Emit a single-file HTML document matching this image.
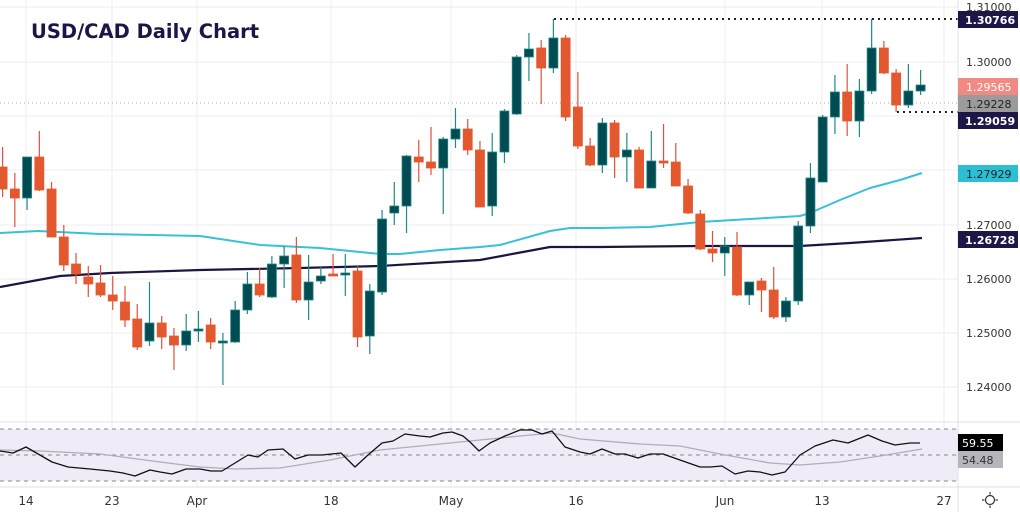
<!DOCTYPE html>
<html><head><meta charset="utf-8"><style>
html,body{margin:0;padding:0;background:#fff;width:1020px;height:512px;overflow:hidden}
svg{display:block}
text{font-family:"DejaVu Sans","Liberation Sans",sans-serif}
</style></head><body>
<svg id="c" width="1020" height="512" viewBox="0 0 1020 512" xmlns="http://www.w3.org/2000/svg">
<rect width="1020" height="512" fill="#fff"/>
<g id="grid" stroke="#eeeef2" stroke-width="1">
<line x1="0" y1="7" x2="958" y2="7"/><line x1="0" y1="62" x2="958" y2="62"/><line x1="0" y1="116" x2="958" y2="116"/><line x1="0" y1="170" x2="958" y2="170"/><line x1="0" y1="225" x2="958" y2="225"/><line x1="0" y1="279" x2="958" y2="279"/><line x1="0" y1="333" x2="958" y2="333"/><line x1="0" y1="387" x2="958" y2="387"/>
<line x1="26" y1="0" x2="26" y2="487"/><line x1="112" y1="0" x2="112" y2="487"/><line x1="197" y1="0" x2="197" y2="487"/><line x1="331" y1="0" x2="331" y2="487"/><line x1="451" y1="0" x2="451" y2="487"/><line x1="576" y1="0" x2="576" y2="487"/><line x1="725" y1="0" x2="725" y2="487"/><line x1="822" y1="0" x2="822" y2="487"/><line x1="944" y1="0" x2="944" y2="487"/>
</g>
<line x1="0" y1="103" x2="958" y2="103" stroke="#aaa" stroke-width="1" stroke-dasharray="1,3"/>
<text x="31" y="38" font-size="19.5" font-weight="bold" fill="#1c1547">USD/CAD Daily Chart</text>
<g id="ma"></g>
<g id="candles"></g>
<line x1="554" y1="19" x2="958" y2="19" stroke="#222" stroke-width="2" stroke-dasharray="2,4"/>
<line x1="897" y1="112" x2="958" y2="112" stroke="#222" stroke-width="2" stroke-dasharray="2,4"/>
<line x1="0" y1="422" x2="1020" y2="422" stroke="#e0e0e6"/>
<rect x="0" y="429" width="958" height="52" fill="#efecf8"/>
<g stroke="#888" stroke-dasharray="4,4" stroke-width="1"><line x1="0" y1="429" x2="958" y2="429"/><line x1="0" y1="455" x2="958" y2="455"/><line x1="0" y1="481" x2="958" y2="481"/></g>
<g id="rsi"></g>
<line x1="0" y1="487" x2="1020" y2="487" stroke="#e0e0e6"/>
<line x1="958" y1="0" x2="958" y2="512" stroke="#e0e0e6"/>
<g font-size="12" fill="#333" text-anchor="middle">
<text x="26" y="505">14</text><text x="112" y="505">23</text><text x="197" y="505">Apr</text><text x="331" y="505">18</text><text x="451" y="505">May</text><text x="576" y="505">16</text><text x="725" y="505">Jun</text><text x="822" y="505">13</text><text x="944" y="505">27</text>
</g>
<g transform="translate(990,500)" stroke="#333" fill="none" stroke-width="1.2"><circle r="4.5"/><line x1="0" y1="-8" x2="0" y2="-5.5"/><line x1="0" y1="8" x2="0" y2="5.5"/><line x1="-8" y1="0" x2="-5.5" y2="0"/><line x1="8" y1="0" x2="5.5" y2="0"/></g>
<g font-size="11" fill="#333">
<text x="966" y="11">1.31000</text><text x="966" y="66">1.30000</text><text x="966" y="229">1.27000</text><text x="966" y="283">1.26000</text><text x="966" y="337">1.25000</text><text x="966" y="391">1.24000</text>
</g>
<g font-size="11">
<rect x="958" y="11" width="60" height="17" fill="#1d1748"/><text x="965" y="24" fill="#fff" font-weight="bold">1.30766</text>
<rect x="958" y="78" width="60" height="17" fill="#f28a84"/><text x="966" y="91" fill="#fff">1.29565</text>
<rect x="958" y="95" width="60" height="17" fill="#9b9b9b"/><text x="966" y="108" fill="#222">1.29228</text>
<rect x="958" y="112" width="60" height="17" fill="#1d1748"/><text x="965" y="125" fill="#fff" font-weight="bold">1.29059</text>
<rect x="958" y="165" width="60" height="17" fill="#2bbfd4"/><text x="966" y="178" fill="#222">1.27929</text>
<rect x="958" y="231" width="60" height="17" fill="#1d1748"/><text x="965" y="244" fill="#fff" font-weight="bold">1.26728</text>
<rect x="958" y="434" width="45" height="17" fill="#000"/><text x="962" y="447" fill="#fff">59.55</text>
<rect x="958" y="451" width="45" height="17" fill="#b5b5bd"/><text x="962" y="464" fill="#333">54.48</text>
</g>
</svg>
<script>
var D=[
['r',167,189,147,197],['r',189,198,173,227],['g',157,198,157,210],['r',157,190,131,191],['r',189,237,182,237],
['r',237,265,225,271],['r',264,274,253,284],['r',277,284,266,297],['r',283,295,265,297],['r',295,301,276,310],
['r',302,320,286,327],['r',319,347,304,350],['g',323,341,282,346],['r',323,337,316,349],['r',336,345,328,370],
['g',331,345,314,351],['g',329,331,311,342],['r',325,342,318,349],['g',341,343,333,385],['g',310,342,301,343],
['g',284,310,272,314],['r',284,295,268,297],['g',264,297,256,298],['g',256,264,246,288],['r',255,300,237,303],
['g',282,300,255,320],['g',276,281,266,284],['r',274,276,254,276],['g',273,275,254,296],['r',271,337,265,347],
['g',291,336,284,354],['g',219,292,210,295],['g',206,213,182,225],['g',156,206,155,233],['r',157,162,140,182],
['r',162,168,127,175],['g',139,168,137,214],['g',129,139,108,148],['r',129,150,119,155],['r',150,207,141,207],
['g',152,206,133,216],['g',111,152,109,163],['g',57,114,55,115],['g',49,57,33,81],['r',48,68,40,104],
['g',38,68,19,73],['r',38,117,35,121],['r',107,146,72,149],['r',146,165,138,166],['g',123,165,118,173],
['r',123,157,120,178],['g',150,157,133,182],['r',150,188,147,188],['g',161,188,131,188],['r',161,163,124,168],
['r',162,186,143,186],['r',186,213,179,214],['r',214,249,210,250],['r',249,253,231,262],['g',246,253,237,276],
['r',247,295,232,296],['g',282,295,282,305],['r',281,290,278,312],['r',290,317,267,319],['g',301,317,297,322],
['g',226,301,221,305],['g',178,226,163,233],['g',117,182,115,182],['g',92,117,75,134],['r',92,121,64,136],
['g',91,121,79,137],['g',48,91,19,94],['r',48,73,41,74],['r',73,105,69,112],['g',91,105,64,108],['g',85,91,70,95]];
var s='';
D.forEach(function(d,i){var x=2.6+12.24*i;var g=d[0]=='g';var wc=g?'#1f8a86':'#e0503a';var bc=g?'#024b53':'#e4582f';var st=g?'#1f8a86':'#e4582f';
s+='<line x1="'+x+'" y1="'+d[3]+'" x2="'+x+'" y2="'+d[4]+'" stroke="'+wc+'" stroke-width="1.2"/>';
var h=Math.max(d[2]-d[1],1.5);s+='<rect x="'+(x-4.5)+'" y="'+d[1]+'" width="9" height="'+h+'" fill="'+bc+'" stroke="'+st+'" stroke-width="0.8"/>';});
document.getElementById('candles').innerHTML=s;
function pl(p,c,w){return '<polyline fill="none" stroke="'+c+'" stroke-width="'+w+'" stroke-linejoin="round" points="'+p+'"/>';}
document.getElementById('ma').innerHTML=
pl('0,233 38,231 100,234 200,236 260,245 320,248 380,254 400,254 440,250 480,247 500,245 550,231 570,228 600,228 650,227 700,222 750,219 800,216 810,213 840,200 870,188 900,180 922,173','#36c2d6',2)+
pl('0,287 60,276 110,273 200,270 300,268 380,266 480,260 550,247 600,247 700,246 800,246 850,243 922,238','#1d1440',2.2);
document.getElementById('rsi').innerHTML=
pl('0,450 40,451 100,454 160,462 200,467 235,469 280,468 330,460 380,450 430,445 480,440 520,436 552,433 580,439 640,444 680,446 720,454 770,463 800,465 840,462 880,456 922,449','#b0acb8',1.3)+
pl('0,451 13,453 26,447 52,462 68,467 90,469 110,471 123,473 135,476 150,470 160,472 172,474 186,469 200,469 211,471 222,471 235,463 248,455 258,457 268,450 283,449 295,459 308,455 322,455 341,453 355,467 368,455 382,443 393,441 405,434 420,436 430,437 443,433 452,432 463,436 470,442 479,451 490,443 505,436 520,430 532,430 542,434 552,431 565,447 580,452 590,454 602,449 615,454 625,454 638,458 650,454 663,454 680,460 700,467 710,467 722,466 735,474 748,471 760,472 772,475 785,472 800,455 815,446 833,440 848,443 868,435 882,441 895,445 910,443 920,443','#111',1.3);
</script>
</body></html>
